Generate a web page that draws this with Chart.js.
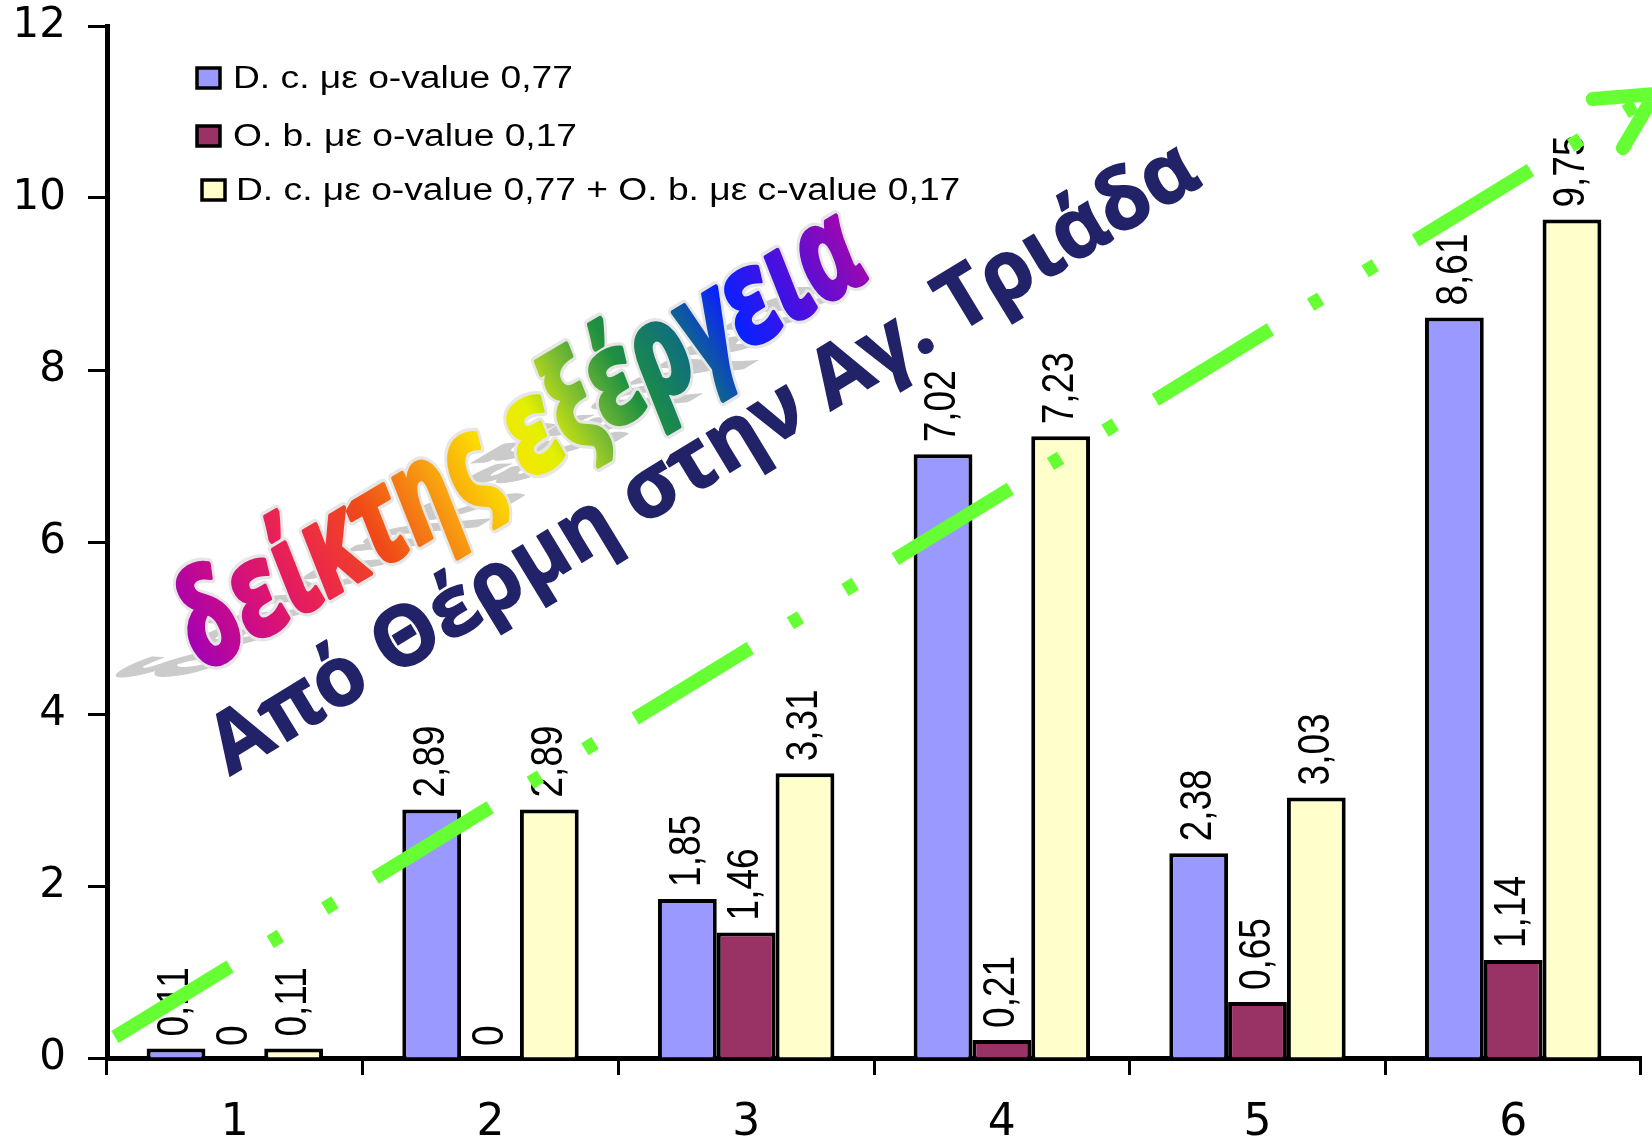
<!DOCTYPE html>
<html lang="el">
<head>
<meta charset="utf-8">
<title>δείκτης εξέργεια</title>
<script src="https://cdn.jsdelivr.net/npm/chart.js@4.4.1/dist/chart.umd.min.js"></script>
<style>
  html, body { margin: 0; padding: 0; background: #fff; }
  canvas { display: block; }
</style>
</head>
<body>
<canvas id="exergyChart" width="1652" height="1146"></canvas>
<script>
// values per section of the route
const categories = ['1', '2', '3', '4', '5', '6'];
const dcValues = [0.11, 2.89, 1.85, 7.02, 2.38, 8.61];
const obValues = [0, 0, 1.46, 0.21, 0.65, 1.14];
const sumValues = [0.11, 2.89, 3.31, 7.23, 3.03, 9.75];
const seriesNames = [
    'D. c. με o-value 0,77',
    'O. b. με o-value 0,17',
    'D. c. με o-value 0,77 + O. b. με c-value 0,17'
];
const yTickValues = [0, 2, 4, 6, 8, 10, 12];

const titleMain = 'δείκτης εξέργεια';
const titleRoute = 'Από Θέρμη στην Αγ. Τριάδα';

function formatValue(v) {
    return String(v).replace('.', ',');
}

// value written vertically above every bar
const barValueLabels = {
    id: 'barValueLabels',
    afterDatasetsDraw(chart) {
        const ctx = chart.ctx;
        ctx.save();
        ctx.fillStyle = '#000';
        ctx.font = '37px "Liberation Sans", Arial, sans-serif';
        ctx.textAlign = 'left';
        ctx.textBaseline = 'middle';
        chart.data.datasets.forEach((ds, i) => {
            chart.getDatasetMeta(i).data.forEach((bar, j) => {
                ctx.save();
                ctx.translate(bar.x, bar.y - 12);
                ctx.rotate(-Math.PI / 2);
                ctx.scale(1, 1.2);
                ctx.fillText(formatValue(ds.data[j]), 0, 0);
                ctx.restore();
            });
        });
        ctx.restore();
    }
};

// legend box in the upper left corner of the plot
const cornerLegend = {
    id: 'cornerLegend',
    afterDraw(chart) {
        const ctx = chart.ctx;
        const rows = [
            { y: 78, box: 197, text: 233 },
            { y: 136, box: 197, text: 233 },
            { y: 190, box: 202, text: 236 }
        ];
        ctx.save();
        chart.data.datasets.forEach((ds, i) => {
            const r = rows[i];
            ctx.fillStyle = ds.backgroundColor;
            ctx.fillRect(r.box, r.y - 10, 23, 20);
            ctx.lineWidth = 3.5;
            ctx.strokeStyle = '#000';
            ctx.strokeRect(r.box, r.y - 10, 23, 20);
            ctx.save();
            ctx.translate(r.text, r.y);
            ctx.scale(1.2, 1);
            ctx.fillStyle = '#000';
            ctx.font = '31px "Liberation Sans", Arial, sans-serif';
            ctx.textBaseline = 'middle';
            ctx.fillText(ds.label, 0, 1);
            ctx.restore();
        });
        ctx.restore();
    }
};

// text laid along a slanted baseline, stretched to reach the end point
function placeText(ctx, text, x0, y0, x1, y1, font) {
    ctx.font = font;
    const w = ctx.measureText(text).width;
    const ang = Math.atan2(y1 - y0, x1 - x0);
    const len = Math.hypot(x1 - x0, y1 - y0);
    return { w: w, ang: ang, sx: len / w };
}

const headings = {
    id: 'headings',
    afterDraw(chart) {
        const ctx = chart.ctx;
        const x = chart.scales.x;
        const y = chart.scales.y;

        // rainbow word art with its flattened shadow
        ctx.save();
        const fontMain = 'italic bold 112px "Open Sans", "DejaVu Sans", sans-serif';
        const p = placeText(ctx, titleMain, 205, 672, 872, 276, fontMain);
        const sy = 1.15;
        ctx.textBaseline = 'alphabetic';
        ctx.save();
        ctx.translate(205, 672);
        ctx.transform(p.sx * Math.cos(p.ang), p.sx * Math.sin(p.ang), 1.15 * sy, -0.17 * sy, 0, 0);
        ctx.fillStyle = '#cbcbcb';
        ctx.strokeStyle = '#cbcbcb';
        ctx.lineWidth = 4;
        ctx.lineJoin = 'round';
        ctx.strokeText(titleMain, 0, 0);
        ctx.fillText(titleMain, 0, 0);
        ctx.restore();

        ctx.translate(205, 672);
        ctx.rotate(p.ang);
        ctx.scale(p.sx, sy);
        const g = ctx.createLinearGradient(0, 0, p.w, 0);
        g.addColorStop(0.00, '#a400b4');
        g.addColorStop(0.10, '#d4107c');
        g.addColorStop(0.18, '#ec2450');
        g.addColorStop(0.28, '#f04a18');
        g.addColorStop(0.38, '#f8a010');
        g.addColorStop(0.46, '#fce000');
        g.addColorStop(0.53, '#e4f000');
        g.addColorStop(0.59, '#84c030');
        g.addColorStop(0.66, '#1e9040');
        g.addColorStop(0.74, '#10707a');
        g.addColorStop(0.82, '#0a20ff');
        g.addColorStop(0.90, '#4810e0');
        g.addColorStop(1.00, '#9c08b0');
        ctx.lineJoin = 'round';
        ctx.lineWidth = 10;
        ctx.strokeStyle = '#e6e6e6';
        ctx.strokeText(titleMain, 0, 0);
        ctx.lineWidth = 4;
        ctx.strokeStyle = g;
        ctx.strokeText(titleMain, 0, 0);
        ctx.fillStyle = g;
        ctx.fillText(titleMain, 0, 0);
        ctx.restore();

        // route caption
        ctx.save();
        const fontRoute = 'bold 80px "Open Sans", "DejaVu Sans", sans-serif';
        const q = placeText(ctx, titleRoute, 230, 776, 1204, 184, fontRoute);
        ctx.translate(230, 776);
        ctx.rotate(q.ang);
        ctx.scale(q.sx, 1.04);
        ctx.fillStyle = '#222268';
        ctx.strokeStyle = '#222268';
        ctx.lineWidth = 1.5;
        ctx.textBaseline = 'alphabetic';
        ctx.strokeText(titleRoute, 0, 0);
        ctx.fillText(titleRoute, 0, 0);
        ctx.restore();

        // green dash-dot trend arrow, anchored in axis units
        const start = [x.getPixelForValue(-0.469), y.getPixelForValue(0.244)];
        const tip = [x.getPixelForValue(5.554), y.getPixelForValue(11.21)];
        const armA = [x.getPixelForValue(5.311), y.getPixelForValue(11.15)];
        const armB = [x.getPixelForValue(5.429), y.getPixelForValue(10.58)];
        ctx.save();
        ctx.strokeStyle = '#66ff33';
        ctx.lineWidth = 14;
        ctx.lineCap = 'butt';
        ctx.setLineDash([135, 47, 12, 52, 12, 47]);
        ctx.beginPath();
        ctx.moveTo(start[0], start[1]);
        ctx.lineTo(tip[0], tip[1]);
        ctx.stroke();
        ctx.setLineDash([]);
        ctx.lineCap = 'round';
        ctx.lineJoin = 'round';
        ctx.beginPath();
        ctx.moveTo(armA[0], armA[1]);
        ctx.lineTo(tip[0], tip[1]);
        ctx.lineTo(armB[0], armB[1]);
        ctx.stroke();
        ctx.restore();
    }
};

const barStyle = {
    borderColor: '#000000',
    borderWidth: 4,
    barPercentage: 1.0,
    categoryPercentage: 0.69
};

const ctx = document.getElementById('exergyChart').getContext('2d');
const exergyChart = new Chart(ctx, {
    type: 'bar',
    data: {
        labels: categories,
        datasets: [
            Object.assign({ label: seriesNames[0], data: dcValues, backgroundColor: '#9999ff' }, barStyle),
            Object.assign({ label: seriesNames[1], data: obValues, backgroundColor: '#993366' }, barStyle),
            Object.assign({ label: seriesNames[2], data: sumValues, backgroundColor: '#ffffcc' }, barStyle)
        ]
    },
    options: {
        responsive: false,
        devicePixelRatio: 1,
        animation: false,
        layout: { padding: { top: 26, right: 11, left: 0, bottom: 0 } },
        scales: {
            x: {
                grid: {
                    drawOnChartArea: false,
                    drawTicks: true,
                    tickLength: 17,
                    tickWidth: 3,
                    tickColor: '#000',
                    offset: true
                },
                border: { display: true, color: '#000', width: 5 },
                ticks: {
                    color: '#000',
                    font: { family: 'DejaVu Sans', size: 44 },
                    padding: 22,
                    maxRotation: 0
                },
                afterFit: function(scale) { scale.height = 88; }
            },
            y: {
                min: 0,
                max: 12,
                afterBuildTicks: function(scale) {
                    scale.ticks = yTickValues.map(v => ({ value: v }));
                },
                grid: {
                    drawOnChartArea: false,
                    drawTicks: true,
                    tickLength: 19,
                    tickWidth: 3,
                    tickColor: '#000'
                },
                border: { display: true, color: '#000', width: 5 },
                ticks: {
                    color: '#000',
                    font: { family: 'DejaVu Sans', size: 42 },
                    padding: 22
                },
                afterFit: function(scale) {
                    scale.width = 107;
                    scale.paddingTop = 0;
                    scale.paddingBottom = 0;
                }
            }
        },
        plugins: {
            legend: { display: false },
            tooltip: { enabled: false }
        }
    },
    plugins: [barValueLabels, cornerLegend, headings]
});
</script>
</body>
</html>
